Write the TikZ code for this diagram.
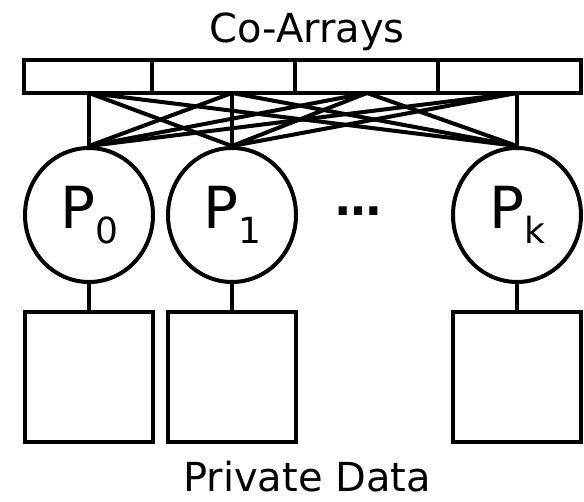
\documentclass[tikz,border=0pt]{standalone}
\usepackage{fontspec}
\setmainfont{DejaVu Sans}
\usetikzlibrary{shapes.geometric}
\begin{document}
\begin{tikzpicture}[x=1pt,y=-1pt,line width=4pt,
  proc/.style={draw,ellipse,inner sep=0pt,minimum width=128pt,minimum height=134pt},
  databox/.style={draw,rectangle,inner sep=0pt,minimum width=128pt,minimum height=130pt},
  cell/.style={draw,rectangle,inner sep=0pt,minimum height=33pt},
  label/.style={font=\fontsize{40}{40}\selectfont}]
\useasboundingbox (0,0) rectangle (584,502);
\newcommand{\procname}[1]{\fontsize{58}{58}\selectfont P\raisebox{-15pt}{\fontsize{36}{36}\selectfont #1}}

% shared co-array segments
\node[cell,minimum width=128pt] (c0) at (88,76.5) {};
\node[cell,minimum width=143pt] (c1) at (223.5,76.5) {};
\node[cell,minimum width=143pt] (c2) at (366.5,76.5) {};
\node[cell,minimum width=143pt] (c3) at (509.5,76.5) {};
\node[label] (title) at (307,32) {Co-Arrays};

% attachment points along the bottom of the bar
\coordinate (a0) at (89,93);
\coordinate (a1) at (232,93);
\coordinate (a2) at (367,93);
\coordinate (a3) at (517,93);

% processes
\node[proc] (p0) at (89,215) {\procname{0}};
\node[proc] (p1) at (232,215) {\procname{1}};
\node[proc] (pk) at (517,215) {\procname{k}};
\node[font=\bfseries\fontsize{46}{46}\selectfont,anchor=base,inner sep=0pt] (dots) at (358,216) {…};

% private memory of each process
\node[databox] (d0) at (89,377) {};
\node[databox] (d1) at (232,377) {};
\node[databox] (dk) at (517,377) {};
\node[label] (priv) at (307,477) {Private Data};

% every process reaches every co-array segment
\foreach \a in {a0,a1,a2,a3}
  \foreach \p in {p0,p1,pk}
    \draw (\a) -- (\p.north);

\foreach \p/\d in {p0/d0,p1/d1,pk/dk}
  \draw (\p.south) -- (\d.north);
\end{tikzpicture}
\end{document}
